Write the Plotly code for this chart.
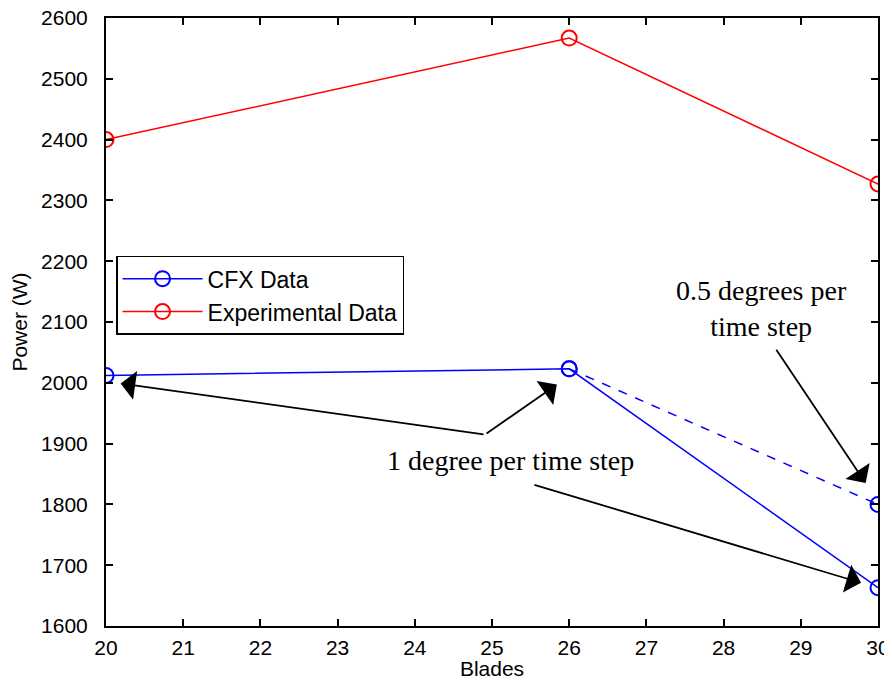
import plotly.graph_objects as go

blades = [20, 26, 30]
experimental = [2400, 2567, 2327]
cfx_1deg = [2012, 2023, 1663]
blades_half = [26, 30]
cfx_half_deg = [2023, 1800]

x_ticks = list(range(20, 31))
y_ticks = list(range(1600, 2601, 100))

fig = go.Figure()
fig.add_trace(go.Scatter(
    x=blades, y=cfx_1deg, mode="lines+markers", name="CFX Data",
    line=dict(color="#0000ff", width=1.5),
    marker=dict(symbol="circle-open", size=15, color="#0000ff", line=dict(width=2)),
))
fig.add_trace(go.Scatter(
    x=blades, y=experimental, mode="lines+markers", name="Experimental Data",
    line=dict(color="#ff0000", width=1.5),
    marker=dict(symbol="circle-open", size=15, color="#ff0000", line=dict(width=2)),
))
fig.add_trace(go.Scatter(
    x=blades_half, y=cfx_half_deg, mode="lines+markers", showlegend=False,
    line=dict(color="#0000ff", width=1.5, dash="dash"),
    marker=dict(symbol="circle-open", size=15, color="#0000ff", line=dict(width=2)),
))

serif = "Liberation Serif, Times New Roman, serif"
sans = "Liberation Sans, Arial"
arrow_common = dict(xref="x", yref="y", axref="x", ayref="y", text="",
                    showarrow=True, arrowhead=1, arrowsize=2.7, arrowwidth=1.8,
                    arrowcolor="black")
# 1 degree arrows
fig.add_annotation(x=20.19, y=1999, ax=24.91, ay=1915, **arrow_common)
fig.add_annotation(x=25.84, y=1997, ax=24.91, ay=1915, **arrow_common)
fig.add_annotation(x=29.78, y=1671, ax=25.53, ay=1833, **arrow_common)
# 0.5 degree arrow
fig.add_annotation(x=29.84, y=1835, ax=28.67, ay=2057, **arrow_common)

fig.add_annotation(x=25.24, y=1872, xref="x", yref="y", text="1 degree per time step",
                   showarrow=False, font=dict(family=serif, size=28, color="black"))
fig.add_annotation(x=28.49, y=2123, xref="x", yref="y", text="0.5 degrees per<br>time step",
                   showarrow=False, font=dict(family=serif, size=28, color="black"))

axis_common = dict(showline=True, linecolor="black", linewidth=2, mirror="ticks",
                   ticks="inside", ticklen=7, tickwidth=1.5, tickcolor="black",
                   showgrid=False, zeroline=False, automargin=False,
                   ticklabeloverflow="allow",
                   tickfont=dict(family=sans, size=21, color="black"),
                   title_font=dict(family=sans, size=21, color="black"))

fig.update_xaxes(range=[20, 30], tickvals=x_ticks, title_text="Blades",
                 ticklabelstandoff=2, title_standoff=6, **axis_common)
fig.update_yaxes(range=[1600, 2600], tickvals=y_ticks, title_text="Power (W)",
                 ticklabelstandoff=12, title_standoff=10, **axis_common)

fig.update_layout(
    width=884, height=672,
    margin=dict(l=98, r=14, t=10, b=54),
    plot_bgcolor="white", paper_bgcolor="white",
    legend=dict(x=0.013, y=0.609, xanchor="left", yanchor="top",
                bordercolor="black", borderwidth=1.5, bgcolor="white",
                font=dict(family=sans, size=23, color="black"),
                tracegroupgap=0, itemwidth=80),
    showlegend=True,
)

fig.write_html("out.html")
